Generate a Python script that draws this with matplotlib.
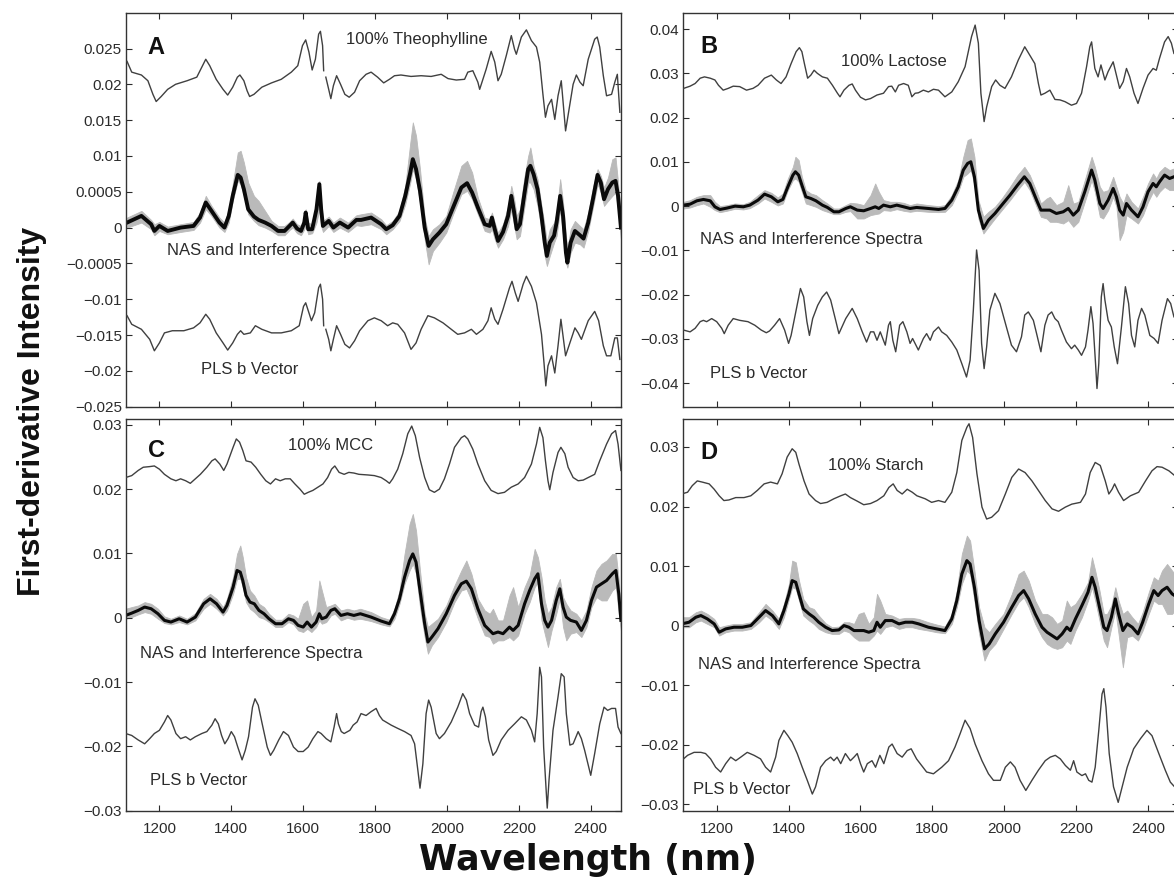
import numpy as np
import matplotlib
matplotlib.use("Agg")
import matplotlib.pyplot as plt

plt.rcParams['font.family'] = ['Liberation Sans', 'DejaVu Sans']

# Intensities are given in units of 1e-3; wavelengths in nm.
nan = np.nan

# ---------------- Panel A : theophylline ----------------
a_ref = [(1110, 23.2), (1123, 21.7), (1150, 21.3), (1168, 20.5), (1182, 18.6), (1191, 17.6), (1205, 18.3),
         (1223, 19.3), (1245, 20.0), (1277, 20.5), (1304, 21.0), (1318, 22.4), (1329, 23.5), (1340, 22.6),
         (1358, 20.7), (1377, 19.3), (1390, 18.5), (1404, 19.6), (1417, 21.0), (1424, 21.3), (1435, 20.5),
         (1444, 19.1), (1451, 18.3), (1463, 18.6), (1485, 19.6), (1512, 20.2), (1539, 20.7), (1567, 21.7),
         (1585, 22.6), (1598, 25.4), (1607, 26.2), (1616, 24.5), (1625, 22.0), (1634, 23.5), (1643, 27.0),
         (1648, 27.4), (1654, 25.4), (1657, 21.9), (1660, nan), (1663, 21.0), (1671, 19.3), (1677, 18.0),
         (1684, 19.8), (1693, 21.2), (1704, 20.0), (1716, 18.6), (1728, 18.2), (1743, 18.9), (1757, 20.5),
         (1775, 21.4), (1789, 21.7), (1807, 21.0), (1824, 20.2), (1840, 20.7), (1854, 21.2), (1872, 21.3),
         (1900, 21.1), (1928, 21.2), (1956, 21.1), (1984, 21.4), (2003, 20.8), (2026, 20.6), (2049, 20.7),
         (2058, 21.7), (2072, 21.9), (2086, 20.3), (2091, 19.3), (2109, 22.1), (2123, 24.6), (2133, 23.1),
         (2142, 20.5), (2151, 21.4), (2165, 24.0), (2179, 26.8), (2188, 24.9), (2193, 24.2), (2207, 26.6),
         (2221, 27.6), (2235, 26.1), (2249, 25.2), (2258, 23.1), (2267, 18.6), (2274, 15.4), (2281, 17.0),
         (2291, 17.9), (2300, 15.1), (2309, 18.4), (2318, 20.5), (2330, 13.5), (2339, 16.3), (2351, 20.0),
         (2360, 21.3), (2370, 20.3), (2379, 19.8), (2393, 23.5), (2411, 26.3), (2418, 26.6), (2425, 25.2),
         (2435, 21.2), (2444, 18.4), (2458, 18.6), (2467, 20.3), (2474, 21.4), (2481, 16.1)]

a_pls = [(1110, -12.3), (1123, -13.5), (1150, -14.2), (1173, -15.6), (1186, -17.2), (1200, -16.1),
         (1214, -14.7), (1236, -14.4), (1268, -14.4), (1295, -14.0), (1313, -13.3), (1329, -12.1),
         (1340, -12.8), (1358, -14.7), (1377, -16.1), (1390, -17.1), (1404, -16.1), (1417, -14.9),
         (1426, -14.4), (1435, -14.9), (1453, -14.7), (1467, -13.7), (1485, -14.2), (1512, -14.7),
         (1539, -14.7), (1567, -14.4), (1589, -13.7), (1601, -11.0), (1607, -10.5), (1616, -11.9),
         (1623, -13.0), (1632, -11.9), (1643, -8.4), (1648, -7.9), (1654, -10.0), (1657, -13.7),
         (1660, nan), (1663, -14.2), (1671, -15.6), (1677, -17.2), (1684, -15.6), (1693, -13.7),
         (1704, -14.9), (1716, -16.3), (1729, -16.8), (1743, -15.8), (1757, -14.4), (1780, -13.0),
         (1798, -12.6), (1817, -13.0), (1835, -13.7), (1849, -13.3), (1863, -13.5), (1882, -14.7),
         (1900, -17.0), (1914, -16.1), (1928, -14.2), (1947, -12.3), (1965, -12.6), (1989, -13.3),
         (2012, -14.2), (2030, -14.9), (2049, -14.7), (2068, -14.2), (2082, -14.9), (2100, -14.2),
         (2114, -13.0), (2123, -11.2), (2133, -12.8), (2142, -13.5), (2156, -11.4), (2174, -8.4),
         (2181, -7.5), (2190, -9.1), (2198, -10.3), (2212, -7.9), (2221, -6.8), (2235, -8.2),
         (2249, -10.5), (2263, -14.9), (2270, -18.9), (2275, -22.1), (2281, -19.3), (2291, -17.9),
         (2300, -20.3), (2309, -16.5), (2317, -12.8), (2330, -17.9), (2342, -16.1), (2356, -14.0),
         (2365, -14.7), (2374, -15.6), (2393, -13.0), (2411, -11.7), (2422, -13.0), (2435, -16.5),
         (2444, -17.9), (2456, -17.9), (2467, -15.4), (2474, -15.4), (2481, -18.4)]

# (wavelength, black centre, grey top, grey bottom)
a_nas = [(1110, 0.70, 1.40, 0.00), (1150, 1.63, 2.33, 0.70), (1177, 0.47, 1.07, -0.23),
         (1186, -0.47, 0.47, -1.07), (1200, 0.23, 0.79, -0.47), (1223, -0.47, 0.14, -0.93),
         (1259, 0.00, 0.47, -0.61), (1295, 0.23, 0.79, -0.33), (1313, 1.40, 2.10, 0.70),
         (1329, 3.50, 4.43, 2.56), (1345, 2.33, 3.03, 1.63), (1367, 0.70, 1.40, 0.00),
         (1381, 0.00, 0.70, -0.61), (1393, 1.63, 2.56, 0.70), (1404, 4.43, 6.06, 3.73),
         (1418, 7.36, 10.49, 6.52), (1426, 6.99, 10.72, 6.06), (1435, 5.36, 9.09, 4.43),
         (1447, 2.56, 6.29, 1.86), (1463, 1.54, 4.43, 0.93), (1476, 1.07, 3.73, 0.33),
         (1494, 0.70, 2.33, 0.00), (1512, 0.23, 0.93, -0.47), (1530, -0.47, 0.23, -1.07),
         (1548, -0.47, 0.23, -1.07), (1562, 0.23, 0.79, -0.33), (1571, 0.70, 1.26, 0.00),
         (1583, -0.14, 0.47, -0.79), (1594, -0.47, 0.23, -1.07), (1603, 0.70, 1.40, -0.23),
         (1607, 2.10, 2.56, 0.23), (1614, -0.23, 0.70, -0.93), (1625, -0.23, 0.47, -0.79),
         (1637, 2.56, 3.26, 0.70), (1645, 6.06, 6.52, 2.56), (1650, 2.56, 3.50, 0.23),
         (1655, 0.23, 0.93, -0.61), (1671, 0.93, 1.54, 0.23), (1684, 0.00, 0.70, -0.61),
         (1702, 0.70, 1.40, 0.00), (1725, 0.00, 0.70, -0.61), (1748, 1.07, 1.72, 0.33),
         (1761, 1.07, 1.86, 0.23), (1789, 1.40, 2.10, 0.47), (1817, 0.47, 1.17, -0.23),
         (1831, -0.23, 0.33, -0.93), (1849, 0.33, 0.93, -0.23), (1868, 1.63, 2.33, 0.93),
         (1884, 4.43, 5.83, 3.26), (1898, 7.69, 11.88, 6.29), (1905, 9.55, 14.68, 8.16),
         (1914, 8.16, 12.82, 6.76), (1925, 5.13, 8.16, 3.50), (1938, 0.00, 1.40, -1.63),
         (1949, -2.56, -1.17, -5.13), (1961, -1.63, -0.23, -3.26), (1979, -0.70, 0.47, -2.10),
         (1998, 0.47, 1.63, -0.70), (2017, 2.80, 4.89, 1.86), (2040, 5.59, 8.62, 4.66),
         (2056, 6.20, 9.32, 5.13), (2070, 4.89, 7.69, 3.96), (2086, 2.80, 4.19, 1.86),
         (2105, 0.47, 1.40, -0.47), (2119, 0.23, 1.17, -0.70), (2125, 1.40, 2.10, -0.23),
         (2133, -0.23, 0.70, -1.63), (2142, -1.86, -0.70, -2.80), (2156, -0.61, 0.47, -1.63),
         (2170, 1.63, 3.03, 0.23), (2179, 4.43, 5.83, 2.56), (2187, 2.10, 3.96, 0.23),
         (2194, -0.23, 1.63, -1.63), (2203, 0.47, 2.56, -1.17), (2216, 4.89, 7.22, 3.03),
         (2226, 8.16, 10.02, 6.29), (2232, 8.62, 11.18, 6.29), (2241, 7.46, 8.62, 5.36),
         (2252, 5.36, 6.76, 3.03), (2263, 1.63, 3.03, -0.23), (2272, -2.10, 0.23, -3.96),
         (2278, -3.96, -2.10, -5.36), (2286, -2.10, -0.23, -3.96), (2298, -1.12, 0.70, -2.10),
         (2305, 0.70, 2.10, -1.17), (2315, 4.43, 6.76, 2.56), (2323, 1.63, 3.50, -1.17),
         (2331, -3.50, -1.17, -4.89), (2335, -4.89, -3.03, -5.59), (2344, -2.10, -0.23, -3.50),
         (2356, -0.47, 0.93, -2.10), (2370, -1.07, 0.23, -2.33), (2380, -1.54, -0.23, -2.80),
         (2393, 0.70, 2.10, -0.47), (2407, 4.19, 5.83, 3.03), (2419, 7.36, 8.16, 6.06),
         (2428, 6.29, 7.22, 4.89), (2437, 3.96, 5.59, 3.03), (2448, 5.36, 6.99, 3.73),
         (2460, 6.29, 9.55, 4.43), (2469, 6.52, 9.79, 4.89), (2476, 4.43, 6.29, 2.56),
         (2484, 0.00, 1.17, -1.63)]

# ---------------- Panel B : lactose ----------------
b_ref = [(1108, 26.6), (1126, 27.1), (1140, 27.7), (1154, 28.9), (1166, 29.2), (1182, 28.9), (1195, 28.5),
         (1205, 27.3), (1218, 26.2), (1232, 26.6), (1246, 27.1), (1264, 27.0), (1283, 26.2), (1301, 26.6),
         (1315, 27.3), (1333, 28.9), (1352, 29.6), (1366, 28.5), (1379, 27.7), (1393, 29.2), (1407, 32.2),
         (1421, 34.9), (1430, 35.8), (1437, 34.9), (1444, 32.2), (1453, 28.9), (1462, 29.6), (1471, 30.7),
         (1480, 30.0), (1494, 29.2), (1508, 28.9), (1522, 27.3), (1536, 25.5), (1543, 24.7), (1554, 26.2),
         (1568, 27.3), (1577, 27.6), (1586, 26.2), (1600, 24.6), (1614, 24.0), (1628, 24.3), (1646, 25.1),
         (1664, 25.5), (1678, 27.0), (1687, 27.1), (1697, 25.8), (1706, 27.3), (1720, 27.7), (1733, 27.3),
         (1743, 24.7), (1752, 25.5), (1761, 25.6), (1775, 26.2), (1789, 25.8), (1803, 26.4), (1817, 26.2),
         (1835, 24.7), (1854, 25.8), (1872, 28.1), (1891, 31.5), (1909, 38.3), (1919, 40.9), (1928, 36.8),
         (1935, 25.5), (1944, 19.1), (1951, 22.4), (1965, 27.0), (1976, 28.5), (1988, 27.3), (2002, 26.6),
         (2020, 29.2), (2039, 33.0), (2057, 36.0), (2071, 34.1), (2085, 32.2), (2095, 27.7), (2102, 25.1),
         (2113, 25.5), (2127, 26.2), (2141, 24.1), (2155, 24.0), (2169, 23.6), (2187, 22.8), (2201, 23.2),
         (2215, 25.5), (2229, 31.5), (2238, 36.0), (2243, 37.1), (2252, 31.1), (2261, 29.2), (2269, 31.9),
         (2280, 28.5), (2289, 30.4), (2303, 32.6), (2312, 29.6), (2321, 26.6), (2331, 28.1), (2340, 31.1),
         (2349, 29.2), (2361, 25.5), (2372, 23.2), (2386, 26.6), (2400, 29.6), (2414, 31.1), (2423, 30.7),
         (2432, 33.4), (2446, 37.1), (2456, 38.3), (2465, 36.8), (2472, 34.5)]

b_pls = [(1108, -28.0), (1126, -28.4), (1140, -27.6), (1154, -26.1), (1163, -25.8), (1172, -26.1),
         (1186, -25.4), (1200, -26.1), (1214, -27.6), (1221, -28.8), (1232, -26.9), (1246, -25.4),
         (1264, -25.8), (1287, -26.1), (1306, -26.9), (1324, -28.0), (1338, -28.6), (1347, -28.2),
         (1361, -26.9), (1375, -25.4), (1389, -28.0), (1400, -31.0), (1407, -29.2), (1421, -23.5),
         (1433, -18.6), (1442, -20.5), (1451, -26.1), (1458, -29.2), (1467, -25.4), (1481, -22.4),
         (1494, -20.5), (1506, -19.4), (1517, -21.2), (1531, -25.8), (1540, -28.8), (1559, -25.4),
         (1577, -23.1), (1591, -25.4), (1605, -28.4), (1617, -30.7), (1628, -28.4), (1637, -28.4),
         (1646, -30.3), (1655, -28.4), (1669, -31.4), (1678, -26.9), (1683, -26.1), (1690, -30.3),
         (1698, -32.9), (1709, -26.9), (1718, -26.1), (1729, -28.4), (1738, -31.0), (1745, -29.9),
         (1761, -32.5), (1775, -29.9), (1784, -28.8), (1794, -30.3), (1803, -28.4), (1817, -27.3),
         (1826, -28.4), (1840, -29.2), (1854, -30.7), (1868, -32.5), (1882, -35.6), (1895, -38.6),
         (1905, -34.8), (1914, -23.5), (1923, -9.9), (1930, -14.5), (1937, -31.0), (1944, -36.7),
         (1951, -31.8), (1960, -23.5), (1974, -19.7), (1988, -22.0), (2007, -27.6), (2020, -31.4),
         (2034, -32.9), (2048, -29.5), (2057, -24.6), (2067, -23.9), (2081, -25.8), (2090, -28.8),
         (2102, -32.9), (2113, -26.9), (2122, -24.6), (2132, -23.9), (2141, -25.4), (2150, -26.1),
         (2159, -28.0), (2173, -30.7), (2187, -32.2), (2196, -31.4), (2206, -32.5), (2215, -33.7),
         (2226, -31.8), (2233, -28.0), (2241, -22.7), (2247, -26.5), (2254, -35.6), (2258, -41.2),
         (2263, -35.6), (2270, -20.5), (2275, -17.5), (2280, -21.2), (2289, -25.8), (2298, -27.3),
         (2306, -31.8), (2315, -35.6), (2326, -27.3), (2337, -18.2), (2346, -22.0), (2354, -29.2),
         (2363, -31.8), (2372, -25.8), (2382, -23.1), (2391, -24.6), (2405, -29.2), (2417, -29.9),
         (2428, -31.0), (2439, -25.8), (2454, -20.9), (2463, -22.0), (2472, -25.0)]

b_nas = [(1108, 0.23, 0.98, -0.53), (1126, 0.45, 1.36, -0.30), (1145, 1.21, 2.11, 0.23),
         (1163, 1.51, 2.49, 0.60), (1182, 1.21, 2.49, -0.15), (1195, -0.15, 0.98, -0.90),
         (1209, -0.75, 0.00, -1.36), (1228, -0.45, 0.23, -1.05), (1251, 0.00, 0.60, -0.60),
         (1274, -0.15, 0.45, -0.75), (1292, 0.23, 0.98, -0.45), (1315, 1.36, 2.49, 0.60),
         (1333, 2.71, 3.62, 1.73), (1352, 2.11, 3.01, 0.98), (1370, 0.98, 1.96, 0.15),
         (1384, 1.51, 2.86, 0.60), (1398, 4.37, 6.25, 3.62), (1412, 7.01, 8.89, 5.88),
         (1419, 7.76, 11.15, 6.25), (1428, 7.01, 10.40, 5.50), (1437, 4.75, 6.63, 3.24),
         (1448, 2.11, 3.62, 0.60), (1462, 1.73, 2.86, 0.23), (1476, 1.21, 2.49, -0.15),
         (1494, 0.23, 1.36, -0.90), (1508, -0.30, 0.60, -1.28), (1526, -1.28, -0.53, -1.81),
         (1540, -1.28, -0.53, -1.81), (1559, -0.53, 0.23, -1.28), (1572, -0.15, 0.75, -1.13),
         (1591, -0.90, 0.60, -2.79), (1609, -1.05, 0.23, -2.79), (1628, -0.53, 2.49, -2.03),
         (1641, -0.15, 5.12, -1.81), (1651, -0.53, 3.24, -1.66), (1664, 0.23, 1.36, -0.90),
         (1683, -0.15, 0.98, -1.05), (1701, 0.23, 0.98, -0.68), (1720, -0.15, 0.75, -1.05),
         (1738, -0.53, 0.23, -1.28), (1756, -0.30, 0.60, -1.05), (1789, -0.53, 0.23, -1.28),
         (1817, -0.75, 0.00, -1.36), (1835, -0.53, 0.23, -1.28), (1854, 1.36, 2.49, 0.23),
         (1872, 4.37, 5.88, 3.24), (1886, 8.14, 11.15, 6.63), (1898, 9.64, 14.92, 7.38),
         (1907, 10.02, 15.29, 8.14), (1917, 6.63, 11.15, 4.75), (1928, -0.90, 1.36, -2.79),
         (1942, -5.05, -2.41, -6.18), (1956, -3.16, -1.28, -4.67), (1974, -1.66, -0.15, -2.79),
         (1993, 0.23, 1.73, -0.90), (2016, 2.49, 4.37, 1.36), (2037, 4.75, 7.01, 3.62),
         (2056, 6.63, 8.89, 5.50), (2071, 5.12, 7.01, 3.62), (2090, 1.36, 3.24, -0.15),
         (2102, -0.90, 0.60, -2.41), (2118, -0.90, 1.73, -2.79), (2127, -0.90, 2.11, -3.54),
         (2145, -1.66, 0.23, -3.54), (2164, -1.28, 0.98, -3.92), (2178, -0.53, 4.75, -3.16),
         (2192, -2.03, 0.60, -4.67), (2206, -0.90, 0.98, -3.54), (2224, 3.24, 5.88, 0.98),
         (2243, 8.14, 11.15, 5.88), (2252, 5.88, 8.89, 3.24), (2266, 0.60, 4.37, -2.41),
         (2275, -0.53, 3.24, -2.79), (2289, 1.36, 3.62, -0.90), (2303, 3.99, 6.63, 2.11),
         (2312, 2.11, 4.37, -0.15), (2321, -0.90, 2.11, -7.68), (2331, -2.03, 0.60, -5.80),
         (2340, 0.60, 2.86, -2.03), (2354, -0.90, 0.98, -2.79), (2372, -2.41, -0.53, -3.92),
         (2386, -0.15, 2.11, -2.03), (2400, 3.24, 5.12, 0.98), (2414, 5.12, 7.38, 3.24),
         (2423, 4.37, 6.25, 2.11), (2432, 5.50, 7.76, 3.24), (2446, 7.01, 8.89, 4.37),
         (2460, 6.25, 8.14, 3.62), (2472, 6.63, 8.51, 3.62)]

# ---------------- Panel C : MCC ----------------
c_ref = [(1106, 21.8), (1123, 22.1), (1141, 22.9), (1155, 23.4), (1173, 23.5), (1186, 23.6), (1200, 23.1),
         (1214, 22.3), (1232, 21.6), (1246, 21.3), (1259, 21.6), (1273, 21.3), (1286, 20.9), (1300, 21.6),
         (1314, 22.3), (1332, 23.4), (1346, 24.4), (1355, 24.7), (1368, 23.9), (1379, 22.9), (1388, 23.9),
         (1405, 26.5), (1414, 27.8), (1423, 27.3), (1432, 26.0), (1441, 24.4), (1455, 24.2), (1468, 23.4),
         (1482, 22.3), (1496, 21.3), (1509, 20.8), (1523, 21.6), (1536, 21.3), (1550, 21.6), (1564, 21.6),
         (1577, 20.8), (1591, 20.0), (1603, 19.2), (1614, 19.5), (1627, 19.8), (1641, 20.3), (1655, 20.8),
         (1668, 21.8), (1679, 23.1), (1688, 23.6), (1700, 22.6), (1714, 22.3), (1727, 22.6), (1741, 22.5),
         (1755, 22.3), (1780, 22.2), (1798, 22.1), (1817, 21.8), (1831, 21.3), (1840, 20.9), (1849, 21.6),
         (1863, 23.1), (1877, 25.5), (1891, 28.6), (1902, 29.8), (1912, 28.3), (1924, 24.9), (1938, 21.8),
         (1951, 19.9), (1965, 19.5), (1979, 20.0), (1993, 21.6), (2007, 23.9), (2021, 26.5), (2040, 28.0),
         (2049, 28.3), (2058, 27.8), (2072, 26.2), (2086, 23.9), (2105, 21.3), (2123, 19.8), (2142, 19.3),
         (2160, 19.5), (2179, 20.3), (2198, 20.8), (2216, 21.8), (2235, 23.9), (2249, 27.0), (2258, 29.6),
         (2267, 28.0), (2274, 24.4), (2281, 21.3), (2286, 19.9), (2295, 22.6), (2309, 25.7), (2317, 26.5),
         (2328, 25.5), (2337, 23.4), (2351, 21.8), (2365, 21.3), (2379, 21.4), (2393, 21.8), (2411, 22.3),
         (2425, 24.4), (2444, 27.0), (2458, 28.6), (2469, 29.1), (2476, 27.0), (2484, 22.9)]

c_pls = [(1106, -18.0), (1123, -18.3), (1141, -19.0), (1159, -19.6), (1173, -18.8), (1186, -18.0),
         (1200, -17.5), (1214, -16.2), (1223, -15.2), (1232, -15.9), (1246, -18.0), (1259, -18.8),
         (1273, -18.5), (1286, -19.0), (1300, -18.5), (1318, -18.0), (1332, -17.7), (1346, -16.7),
         (1355, -15.7), (1364, -16.5), (1373, -18.3), (1382, -19.6), (1391, -18.8), (1400, -17.7),
         (1409, -18.5), (1418, -20.1), (1430, -22.1), (1439, -20.6), (1448, -18.5), (1459, -13.9),
         (1466, -12.6), (1475, -13.6), (1486, -16.5), (1500, -20.1), (1509, -21.4), (1518, -20.6),
         (1532, -19.0), (1545, -17.7), (1559, -18.3), (1573, -20.1), (1586, -20.8), (1600, -20.8),
         (1614, -20.1), (1627, -18.8), (1641, -17.7), (1650, -18.0), (1664, -18.8), (1677, -19.3),
         (1686, -17.0), (1693, -14.9), (1698, -16.5), (1706, -17.7), (1714, -18.0), (1730, -17.5),
         (1739, -16.7), (1750, -16.2), (1761, -14.9), (1775, -15.2), (1789, -14.6), (1803, -14.1),
         (1812, -15.2), (1821, -15.9), (1845, -16.7), (1863, -17.2), (1882, -17.7), (1900, -18.3),
         (1910, -19.6), (1919, -23.7), (1925, -26.5), (1933, -22.7), (1942, -14.9), (1949, -12.8),
         (1956, -13.9), (1970, -18.0), (1979, -18.8), (1993, -18.0), (2012, -16.2), (2030, -13.9),
         (2044, -11.8), (2054, -12.8), (2063, -14.9), (2077, -16.7), (2088, -17.0), (2095, -14.6),
         (2100, -13.9), (2107, -15.4), (2116, -19.0), (2128, -21.4), (2137, -20.8), (2151, -19.0),
         (2170, -17.5), (2188, -16.5), (2207, -15.4), (2221, -15.9), (2235, -17.5), (2244, -19.3),
         (2251, -14.9), (2258, -7.7), (2263, -9.2), (2269, -20.1), (2277, -27.8), (2279, -29.6),
         (2284, -25.2), (2295, -17.5), (2309, -12.3), (2318, -8.7), (2326, -9.2), (2332, -14.9),
         (2342, -19.8), (2351, -19.6), (2365, -17.7), (2374, -18.8), (2383, -20.6), (2400, -24.5),
         (2411, -21.1), (2425, -16.5), (2437, -13.9), (2447, -14.4), (2458, -14.1), (2469, -14.1),
         (2476, -17.0), (2484, -18.0)]

c_nas = [(1106, 0.36, 1.40, -0.16), (1123, 0.72, 1.66, 0.10), (1141, 1.14, 1.91, 0.52),
         (1159, 1.66, 2.43, 0.88), (1177, 1.40, 2.17, 0.62), (1196, 0.62, 1.40, -0.16),
         (1214, -0.41, 0.21, -0.83), (1232, -0.67, -0.16, -1.03), (1255, -0.16, 0.36, -0.67),
         (1277, -0.67, -0.16, -1.03), (1300, 0.10, 0.72, -0.41), (1323, 2.17, 2.95, 1.40),
         (1341, 2.95, 3.72, 2.17), (1359, 2.17, 2.95, 1.40), (1377, 0.88, 1.66, 0.36),
         (1388, 1.91, 2.95, 1.14), (1405, 4.76, 6.31, 3.72), (1416, 7.35, 9.93, 6.05),
         (1425, 7.09, 11.23, 6.05), (1432, 5.79, 9.41, 4.76), (1441, 3.47, 6.31, 2.43),
         (1452, 2.43, 4.24, 1.40), (1464, 2.17, 3.47, 0.88), (1477, 1.14, 2.17, 0.10),
         (1491, 0.62, 1.66, -0.16), (1505, -0.16, 0.62, -0.67), (1523, -0.93, -0.31, -1.45),
         (1541, -0.93, -0.31, -1.45), (1559, -0.16, 0.62, -0.67), (1573, -0.41, 0.36, -1.03),
         (1586, -1.19, -0.16, -1.97), (1600, -1.45, 2.17, -2.22), (1611, -0.67, 2.69, -1.71),
         (1623, -1.45, 0.10, -2.22), (1636, -0.67, 1.14, -1.45), (1645, 0.62, 5.79, -0.41),
         (1652, -0.16, 4.24, -0.93), (1664, 0.10, 1.66, -0.67), (1677, 1.14, 1.91, 0.36),
         (1688, 1.40, 2.17, 0.62), (1705, 0.36, 1.14, -0.41), (1723, 0.62, 1.40, 0.00),
         (1741, 0.36, 1.14, -0.31), (1759, 0.62, 1.40, -0.16), (1789, 0.10, 0.88, -0.52),
         (1817, -0.52, 0.10, -1.03), (1840, -0.93, -0.31, -1.34), (1854, 0.62, 1.40, -0.16),
         (1868, 2.95, 4.24, 2.17), (1882, 6.31, 9.93, 5.28), (1896, 8.90, 14.59, 7.35),
         (1905, 9.93, 16.14, 8.38), (1914, 8.64, 13.55, 6.83), (1925, 4.24, 7.35, 1.66),
         (1938, -0.93, 0.62, -3.00), (1947, -3.78, -1.45, -5.59), (1958, -3.00, -0.93, -4.29),
         (1975, -1.71, -0.16, -3.00), (1998, 0.62, 1.91, -0.67), (2021, 3.47, 5.02, 2.43),
         (2040, 5.28, 7.35, 4.24), (2054, 5.69, 8.90, 4.50), (2068, 4.50, 6.83, 2.69),
         (2086, 1.40, 2.95, -0.16), (2105, -1.19, 1.14, -2.74), (2119, -1.97, 0.62, -3.00),
         (2128, -2.48, 1.40, -4.03), (2142, -2.22, -0.41, -3.52), (2156, -2.48, -0.41, -3.52),
         (2174, -1.45, 3.47, -3.00), (2184, -1.97, 4.76, -3.52), (2198, -1.19, 1.66, -2.74),
         (2216, 2.17, 4.76, 0.62), (2230, 4.24, 6.57, 2.43), (2244, 6.05, 10.71, 4.76),
         (2253, 6.83, 9.41, 5.54), (2263, 2.17, 6.31, -0.41), (2272, -0.41, 2.69, -2.48),
         (2281, -1.45, 0.62, -4.55), (2291, -0.41, 1.66, -1.97), (2304, 2.69, 4.76, 0.62),
         (2314, 4.50, 6.05, 2.95), (2323, 1.66, 3.21, -1.45), (2332, 0.10, 2.17, -3.52),
         (2344, -0.41, 1.14, -2.48), (2360, -0.67, 0.62, -2.22), (2374, -1.97, -0.41, -3.00),
         (2388, -0.41, 1.14, -1.45), (2402, 2.69, 4.76, 1.66), (2416, 4.76, 7.35, 3.21),
         (2430, 5.28, 8.38, 2.69), (2444, 5.79, 8.90, 2.69), (2460, 6.83, 9.93, 4.24),
         (2470, 7.35, 9.93, 4.76), (2478, 3.72, 5.79, 0.62), (2484, -0.41, 0.62, -1.97)]

# ---------------- Panel D : starch ----------------
d_ref = [(1102, 22.1), (1119, 22.4), (1132, 23.5), (1146, 24.3), (1160, 24.1), (1179, 23.8), (1193, 22.9),
         (1207, 21.8), (1220, 21.0), (1234, 21.1), (1253, 21.5), (1276, 21.5), (1295, 21.8), (1313, 22.7),
         (1332, 23.8), (1350, 24.1), (1369, 23.8), (1382, 25.5), (1396, 28.3), (1410, 29.7), (1420, 29.1),
         (1429, 27.1), (1443, 24.3), (1457, 22.1), (1475, 21.0), (1489, 20.5), (1507, 20.7), (1526, 21.3),
         (1545, 21.8), (1558, 22.1), (1572, 21.5), (1591, 20.9), (1609, 20.3), (1628, 20.5), (1646, 21.0),
         (1665, 21.8), (1679, 23.2), (1691, 23.8), (1702, 22.7), (1716, 22.1), (1730, 22.9), (1744, 22.4),
         (1757, 21.8), (1780, 21.3), (1798, 20.7), (1817, 21.0), (1835, 20.7), (1854, 22.4), (1868, 25.7),
         (1882, 31.1), (1896, 33.3), (1902, 33.9), (1912, 31.6), (1924, 25.5), (1938, 19.9), (1951, 17.9),
         (1965, 18.2), (1984, 19.3), (2003, 22.1), (2021, 24.9), (2040, 26.3), (2058, 25.7), (2077, 24.3),
         (2095, 22.7), (2114, 21.0), (2133, 19.6), (2151, 19.2), (2170, 19.9), (2188, 20.4), (2212, 20.7),
         (2226, 22.1), (2239, 25.7), (2253, 27.4), (2267, 26.9), (2281, 24.3), (2291, 22.1), (2300, 22.9),
         (2307, 23.8), (2318, 22.4), (2332, 21.0), (2351, 21.8), (2374, 22.4), (2393, 24.3), (2411, 26.0),
         (2425, 26.7), (2439, 26.6), (2458, 26.0), (2474, 25.2)]

d_pls = [(1102, -22.7), (1119, -21.8), (1137, -21.3), (1156, -21.3), (1169, -21.5), (1183, -22.4),
         (1197, -23.8), (1211, -24.6), (1225, -23.2), (1239, -22.1), (1253, -22.7), (1267, -22.1),
         (1285, -21.3), (1304, -21.8), (1322, -22.4), (1336, -23.8), (1350, -24.6), (1364, -22.1),
         (1373, -19.3), (1387, -17.6), (1398, -18.5), (1410, -19.6), (1424, -21.5), (1438, -23.8),
         (1452, -26.0), (1466, -28.3), (1475, -27.1), (1489, -23.8), (1503, -22.7), (1517, -22.1),
         (1526, -22.7), (1535, -22.1), (1545, -23.2), (1558, -21.5), (1572, -22.7), (1582, -22.1),
         (1591, -21.5), (1600, -23.2), (1609, -24.6), (1619, -23.2), (1632, -22.7), (1642, -23.8),
         (1654, -21.8), (1665, -23.2), (1679, -20.4), (1688, -19.9), (1702, -21.5), (1716, -22.1),
         (1730, -21.0), (1741, -20.7), (1756, -22.4), (1784, -24.6), (1803, -24.9), (1826, -23.8),
         (1845, -22.7), (1863, -20.4), (1877, -18.2), (1891, -15.9), (1905, -17.3), (1919, -19.9),
         (1938, -22.7), (1956, -24.9), (1970, -26.0), (1989, -26.0), (2003, -23.8), (2017, -22.9),
         (2030, -23.8), (2044, -26.0), (2060, -27.7), (2077, -26.0), (2095, -24.3), (2114, -22.7),
         (2128, -22.1), (2142, -21.8), (2156, -22.4), (2170, -23.5), (2184, -24.3), (2193, -22.7),
         (2202, -24.6), (2216, -25.2), (2226, -24.9), (2235, -26.0), (2244, -26.3), (2253, -23.8),
         (2263, -17.6), (2272, -11.5), (2277, -10.6), (2283, -13.7), (2292, -21.5), (2304, -27.1),
         (2317, -29.7), (2328, -27.1), (2342, -23.8), (2360, -20.7), (2379, -19.0), (2397, -17.6),
         (2411, -18.5), (2430, -21.5), (2448, -24.3), (2462, -26.3), (2474, -27.1)]

d_nas = [(1102, 0.28, 1.40, -0.28), (1123, 0.56, 1.40, -0.28), (1142, 1.40, 2.24, 0.56),
         (1156, 1.68, 2.52, 0.84), (1174, 1.12, 1.96, 0.28), (1193, 0.28, 1.12, -0.28),
         (1207, -1.12, -0.28, -1.68), (1225, -0.56, 0.00, -1.12), (1248, -0.28, 0.28, -0.84),
         (1271, -0.28, 0.28, -0.84), (1295, 0.00, 0.56, -0.56), (1318, 1.40, 2.24, 0.56),
         (1336, 2.52, 3.64, 1.68), (1355, 1.68, 2.52, 0.84), (1373, 0.28, 1.12, -0.56),
         (1387, 2.52, 3.64, 1.40), (1401, 5.32, 7.00, 4.48), (1410, 7.55, 10.91, 6.44),
         (1420, 7.27, 10.63, 6.16), (1429, 5.32, 7.55, 4.20), (1441, 2.80, 4.48, 1.68),
         (1457, 1.96, 3.08, 0.84), (1470, 1.40, 2.80, 0.28), (1484, 0.56, 1.68, -0.56),
         (1503, -0.28, 0.39, -1.12), (1521, -0.84, -0.28, -1.40), (1540, -0.73, -0.17, -1.40),
         (1554, 0.00, 0.56, -0.84), (1568, -0.28, 0.56, -1.12), (1582, -0.84, 0.28, -1.96),
         (1595, -0.84, 1.96, -2.52), (1609, -0.84, 2.24, -2.52), (1623, -1.12, 0.28, -2.52),
         (1637, -0.84, 1.40, -1.68), (1646, 0.56, 5.32, -0.84), (1655, -0.28, 4.20, -1.40),
         (1669, 0.84, 1.96, -0.28), (1688, 0.84, 1.68, 0.00), (1707, 0.28, 1.12, -0.56),
         (1725, 0.56, 1.29, -0.28), (1744, 0.56, 1.29, -0.28), (1762, 0.28, 1.12, -0.56),
         (1789, -0.28, 0.56, -0.84), (1812, -0.56, 0.17, -1.12), (1835, -0.84, -0.17, -1.29),
         (1854, 1.12, 1.96, 0.28), (1868, 4.20, 5.88, 3.08), (1882, 8.67, 12.03, 7.00),
         (1896, 10.91, 15.11, 9.23), (1905, 10.35, 14.27, 8.67), (1917, 6.44, 9.23, 4.20),
         (1930, 0.84, 3.08, -1.40), (1945, -3.92, -0.28, -5.88), (1958, -3.08, -1.12, -4.20),
         (1975, -1.40, 0.28, -3.08), (1998, 0.56, 1.96, -0.56), (2021, 3.08, 5.32, 1.96),
         (2040, 5.04, 8.67, 3.92), (2054, 5.88, 9.23, 4.76), (2068, 4.48, 7.55, 3.08),
         (2086, 1.96, 4.20, 0.28), (2105, -0.28, 1.96, -1.96), (2119, -1.12, 1.96, -3.08),
         (2133, -1.68, 1.40, -3.64), (2147, -2.24, 0.28, -3.92), (2161, -1.40, 0.84, -3.64),
         (2174, -0.28, 4.20, -2.52), (2184, -0.84, 3.08, -3.08), (2198, 1.12, 3.64, -0.84),
         (2216, 3.36, 5.32, 1.40), (2233, 5.60, 7.27, 4.20), (2244, 8.11, 11.47, 6.44),
         (2253, 6.44, 9.23, 4.20), (2265, 3.08, 5.88, 0.84), (2277, -0.28, 1.96, -2.52),
         (2286, -0.84, 1.96, -3.64), (2298, 1.40, 3.36, -0.28), (2309, 4.48, 6.44, 2.52),
         (2318, 1.96, 4.20, -1.40), (2330, -0.84, 1.96, -7.00), (2342, 0.28, 2.52, -1.96),
         (2356, -0.28, 1.40, -1.68), (2372, -1.40, 0.28, -2.52), (2385, 0.56, 2.24, -0.84),
         (2402, 3.64, 5.60, 1.96), (2416, 5.88, 8.11, 4.20), (2428, 5.04, 7.55, 3.64),
         (2439, 5.88, 9.23, 3.64), (2453, 6.44, 10.35, 1.96), (2467, 5.32, 9.23, 1.96),
         (2474, 5.04, 8.67, 2.52)]

# axis settings
x_ticks = [1200, 1400, 1600, 1800, 2000, 2200, 2400]
a_yticks = [-25, -20, -15, -10, -5, 0, 5, 10, 15, 20, 25]
a_ylabels = ['\u22120.025', '\u22120.02', '\u22120.015', '\u22120.01', '\u22120.0005', '0',
             '0.0005', '0.01', '0.015', '0.02', '0.025']
b_yticks = [-40, -30, -20, -10, 0, 10, 20, 30, 40]
b_ylabels = ['\u22120.04', '\u22120.03', '\u22120.02', '\u22120.01', '0', '0.01', '0.02', '0.03', '0.04']
cd_yticks = [-30, -20, -10, 0, 10, 20, 30]
cd_ylabels = ['\u22120.03', '\u22120.02', '\u22120.01', '0', '0.01', '0.02', '0.03']

TXT = '#2b2b2b'
LINE = '#404040'
GREY = '#bababa'

fig = plt.figure(figsize=(11.74, 8.81), dpi=100)


def draw(rect, ref, pls, nas, ylim, yticks, ylabels, letter, letter_x, letter_y,
         ref_txt, nas_txt, pls_txt, bottom, nas_lw):
    ax = fig.add_axes(rect)
    r = np.array(ref, dtype=float)
    p = np.array(pls, dtype=float)
    n = np.array(nas, dtype=float)
    s = 1e-3
    ax.fill_between(n[:, 0], n[:, 3] * s, n[:, 2] * s, color=GREY, lw=0.6, ec=GREY, zorder=1)
    ax.plot(n[:, 0], n[:, 1] * s, color='#0a0a0a', lw=nas_lw, zorder=2, solid_joinstyle='round')
    ax.plot(r[:, 0], r[:, 1] * s, color=LINE, lw=1.0, zorder=3)
    ax.plot(p[:, 0], p[:, 1] * s, color=LINE, lw=1.0, zorder=3)
    ax.set_xlim(1107, 2484)
    ax.set_ylim(ylim[0] * s, ylim[1] * s)
    ax.set_xticks(x_ticks)
    ax.set_yticks(np.array(yticks) * s)
    ax.set_yticklabels(ylabels)
    if not bottom:
        ax.set_xticklabels([])
    ax.tick_params(axis='both', direction='in', top=True, right=True, length=4, width=0.8,
                   labelsize=11, colors=TXT)
    ax.tick_params(axis='y', pad=3)
    ax.tick_params(axis='x', pad=8)
    for sp in ax.spines.values():
        sp.set_linewidth(1.0)
        sp.set_color('#333333')
    ax.text(letter_x, letter_y, letter, transform=ax.transAxes, fontsize=17, fontweight='bold',
            color='#111111', ha='left', va='baseline')
    for (t, x, y, ha) in (ref_txt, nas_txt, pls_txt):
        ax.text(x, y, t, transform=ax.transAxes, fontsize=12, color=TXT, ha=ha, va='baseline')
    return ax


draw([0.1073, 0.5384, 0.4216, 0.4472], a_ref, a_pls, a_nas, (-25.0, 30.0), a_yticks, a_ylabels,
     'A', 0.044, 0.895,
     ('100% Theophylline', 0.587, 0.920, 'center'),
     ('NAS and Interference Spectra', 0.083, 0.385, 'left'),
     ('PLS b Vector', 0.151, 0.084, 'left'), False, 2.8)

draw([0.5820, 0.5384, 0.4216, 0.4472], b_ref, b_pls, b_nas, (-45.3, 43.7), b_yticks, b_ylabels,
     'B', 0.034, 0.897,
     ('100% Lactose', 0.319, 0.865, 'left'),
     ('NAS and Interference Spectra', 0.034, 0.412, 'left'),
     ('PLS b Vector', 0.054, 0.074, 'left'), False, 2.2)

draw([0.1073, 0.0798, 0.4216, 0.4446], c_ref, c_pls, c_nas, (-30.0, 30.9), cd_yticks, cd_ylabels,
     'C', 0.044, 0.903,
     ('100% MCC', 0.327, 0.921, 'left'),
     ('NAS and Interference Spectra', 0.028, 0.389, 'left'),
     ('PLS b Vector', 0.048, 0.066, 'left'), True, 2.2)

draw([0.5820, 0.0798, 0.4216, 0.4446], d_ref, d_pls, d_nas, (-31.1, 34.7), cd_yticks, cd_ylabels,
     'D', 0.034, 0.898,
     ('100% Starch', 0.293, 0.870, 'left'),
     ('NAS and Interference Spectra', 0.030, 0.361, 'left'),
     ('PLS b Vector', 0.020, 0.043, 'left'), True, 2.2)

fig.text(0.501, 0.0125, 'Wavelength (nm)', ha='center', va='baseline', fontsize=25,
         fontweight='bold', family='DejaVu Sans', color='#111111')
fig.text(0.027, 0.5335, 'First-derivative Intensity', ha='center', va='center', rotation=90,
         fontsize=23, fontweight='bold', color='#111111')

fig.savefig('out.png', dpi=100)
